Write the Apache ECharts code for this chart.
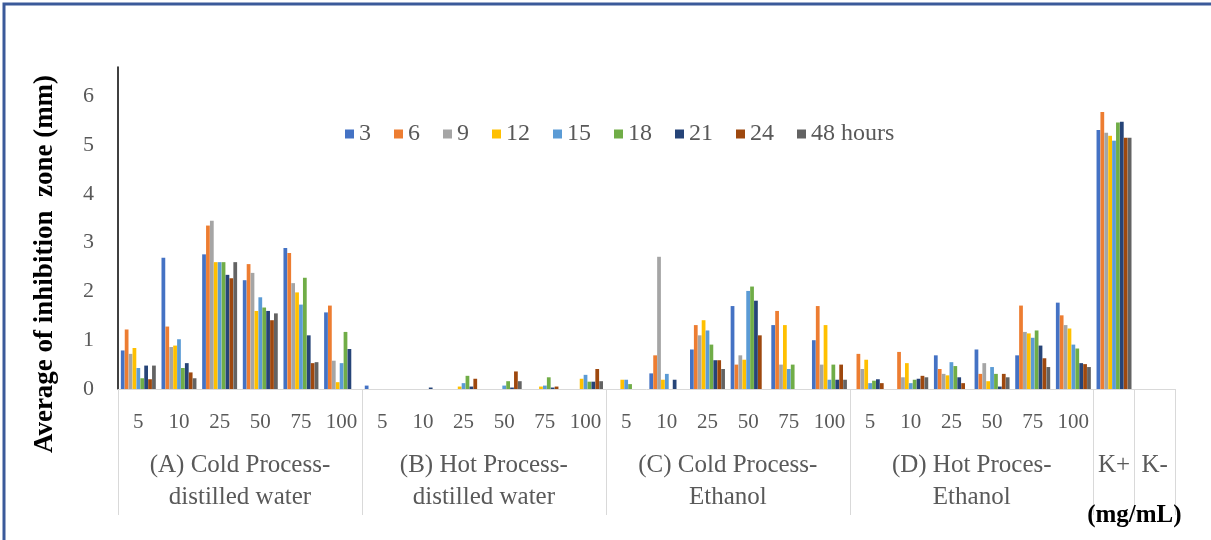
<!DOCTYPE html>
<html lang="en">
<head>
<meta charset="UTF-8">
<title>Average of inhibition zone</title>
<script src="https://cdn.jsdelivr.net/npm/echarts@6/dist/echarts.min.js"></script>
<style>
  html, body { margin: 0; padding: 0; background: #fff; }
  #chart { width: 1211px; height: 540px; }
</style>
</head>
<body>
<div id="chart"></div>
<script>
// concentrations (mg/mL) inside each extract group
var concentrations = ['5', '10', '25', '50', '75', '100'];
var groups = ['(A) Cold Process-\ndistilled water', '(B) Hot Process-\ndistilled water',
              '(C) Cold Process-\nEthanol', '(D) Hot Proces-\nEthanol'];
var controls = ['K+', 'K-'];
var unitLabel = '(mg/mL)';
var hours = ['3', '6', '9', '12', '15', '18', '21', '24', '48 hours'];
var colors = ['#4472C4', '#ED7D31', '#A5A5A5', '#FFC000', '#5B9BD5', '#70AD47', '#264478', '#9E480E', '#636363'];

// values per hour, order: A 5..100, B 5..100, C 5..100, D 5..100, K+, K-
var h3  = [0.79, 2.69, 2.76, 2.23, 2.89, 1.57, 0.07, 0, 0, 0, 0, 0,
           0, 0.32, 0.81, 1.70, 1.31, 1.00, 0, 0, 0.69, 0.81, 0.69, 1.77, 5.31, 0];
var h6  = [1.22, 1.28, 3.35, 2.56, 2.79, 1.71, 0, 0, 0, 0, 0, 0,
           0, 0.69, 1.31, 0.50, 1.60, 1.70, 0.72, 0.76, 0.41, 0.31, 1.71, 1.51, 5.68, 0];
var h9  = [0.72, 0.86, 3.45, 2.38, 2.17, 0.58, 0, 0, 0, 0, 0, 0,
           0, 2.71, 1.10, 0.69, 0.50, 0.50, 0.41, 0.24, 0.31, 0.53, 1.17, 1.31, 5.25, 0];
var h12 = [0.84, 0.89, 2.60, 1.60, 1.98, 0.14, 0, 0, 0.05, 0, 0.05, 0.21,
           0.19, 0.19, 1.41, 0.60, 1.31, 1.31, 0.60, 0.53, 0.28, 0.16, 1.14, 1.24, 5.19, 0];
var h15 = [0.43, 1.02, 2.60, 1.88, 1.73, 0.53, 0, 0, 0.12, 0.07, 0.07, 0.29,
           0.19, 0.31, 1.20, 2.01, 0.41, 0.19, 0.12, 0.12, 0.55, 0.45, 1.05, 0.91, 5.09, 0];
var h18 = [0.22, 0.43, 2.60, 1.67, 2.28, 1.17, 0, 0, 0.27, 0.16, 0.24, 0.15,
           0.10, 0, 0.91, 2.10, 0.50, 0.50, 0.17, 0.19, 0.47, 0.31, 1.20, 0.83, 5.46, 0];
var h21 = [0.48, 0.53, 2.34, 1.60, 1.10, 0.82, 0, 0.03, 0.05, 0.03, 0.03, 0.15,
           0, 0.19, 0.59, 1.81, 0, 0.19, 0.20, 0.21, 0.24, 0.05, 0.89, 0.53, 5.48, 0];
var h24 = [0.20, 0.34, 2.27, 1.41, 0.53, 0, 0, 0, 0.21, 0.36, 0.05, 0.41,
           0, 0, 0.59, 1.10, 0, 0.50, 0.12, 0.27, 0.12, 0.31, 0.63, 0.51, 5.15, 0];
var h48 = [0.48, 0.22, 2.60, 1.55, 0.55, 0, 0, 0, 0, 0.16, 0, 0.16,
           0, 0, 0.41, 0, 0, 0.19, 0, 0.24, 0, 0.24, 0.45, 0.45, 5.15, 0];
var values = [h3, h6, h9, h12, h15, h18, h21, h24, h48];

var serif = 'Liberation Serif';
var grey = '#595959';

// category axis: one slot per bar group
var catIds = [], catLabels = [];
groups.forEach(function (g, gi) {
  concentrations.forEach(function (c) { catIds.push(gi + '-' + c); catLabels.push(c); });
});
controls.forEach(function (k) { catIds.push(k); catLabels.push(''); });

// half-slot axis used for the group labels and the separators
var nHalf = catIds.length * 2 + 1;
var halfIds = [], halfLabels = [], halfTicks = {};
for (var i = 0; i < nHalf; i++) { halfIds.push(String(i)); halfLabels.push(''); }
groups.forEach(function (g, gi) {
  var start = gi * concentrations.length * 2;
  halfLabels[start + concentrations.length] = g;
  halfTicks[start] = true;
});
var kStart = groups.length * concentrations.length * 2;
controls.forEach(function (k, ki) {
  halfLabels[kStart + ki * 2 + 1] = k;
  halfTicks[kStart + ki * 2] = true;
});
halfTicks[nHalf - 1] = true;

// third axis only carries the unit under the two controls
var unitLabels = halfLabels.map(function () { return ''; });
unitLabels[kStart + 2] = unitLabel;

var myChart = echarts.init(document.getElementById('chart'));

var option = {
  animation: false,
  backgroundColor: '#fff',
  color: colors,
  grid: { left: 118, right: 36, top: 67, bottom: 151, outerBoundsMode: 'none', containLabel: false },
  legend: {
    top: 117,
    left: 340,
    itemWidth: 9,
    itemHeight: 9,
    itemGap: 23,
    icon: 'rect',
    textStyle: { fontFamily: serif, fontSize: 24, color: grey }
  },
  xAxis: [
    {
      type: 'category',
      data: catIds,
      axisLine: { lineStyle: { color: '#d9d9d9', width: 1 } },
      axisTick: { show: false },
      axisLabel: {
        interval: 0, margin: 21, lineHeight: 24, hideOverlap: false,
        fontFamily: serif, fontSize: 21, color: grey,
        formatter: function (v, idx) { return catLabels[idx]; }
      }
    },
    {
      type: 'category',
      data: halfIds,
      boundaryGap: false,
      position: 'bottom',
      axisLine: { show: false },
      axisTick: {
        show: true, length: 126,
        interval: function (idx) { return !!halfTicks[idx]; },
        lineStyle: { color: '#d9d9d9', width: 1 }
      },
      axisLabel: {
        margin: 60, lineHeight: 32, hideOverlap: false,
        fontFamily: serif, fontSize: 25, color: grey,
        interval: function (idx) { return halfLabels[idx] !== ''; },
        formatter: function (v, idx) { return halfLabels[idx]; }
      }
    },
    {
      type: 'category',
      data: halfIds,
      boundaryGap: false,
      position: 'bottom',
      axisLine: { show: false },
      axisTick: { show: false },
      axisLabel: {
        margin: 114, hideOverlap: false,
        fontFamily: serif, fontSize: 25, fontWeight: 'bold', color: '#000',
        interval: function (idx) { return unitLabels[idx] !== ''; },
        formatter: function (v, idx) { return unitLabels[idx]; }
      }
    }
  ],
  yAxis: {
    type: 'value',
    min: 0, max: 6.6, interval: 1,
    axisLine: { show: true, lineStyle: { color: '#000', width: 1.5 } },
    axisTick: { show: false },
    splitLine: { show: false },
    axisLabel: { showMaxLabel: false, margin: 24, fontFamily: serif, fontSize: 22, color: grey }
  },
  graphic: [
    {
      type: 'text',
      x: 45, y: 264, rotation: Math.PI / 2,
      style: {
        text: 'Average of inhibition  zone (mm)',
        fontFamily: serif, fontSize: 27, fontWeight: 'bold', fill: '#000',
        align: 'center', verticalAlign: 'middle'
      }
    },
    {
      type: 'rect',
      shape: { x: 4, y: 4, width: 1260, height: 600 },
      style: { fill: null, stroke: '#3B5A9A', lineWidth: 3 }
    }
  ],
  series: hours.map(function (h, si) {
    return {
      name: h,
      type: 'bar',
      xAxisIndex: 0,
      data: values[si],
      barGap: '4%',
      barCategoryGap: '14%'
    };
  })
};

myChart.setOption(option);
</script>
</body>
</html>
